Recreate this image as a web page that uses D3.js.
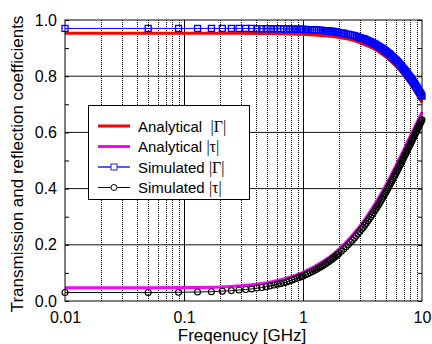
<!DOCTYPE html>
<html>
<head>
<meta charset="utf-8">
<script src="https://cdn.jsdelivr.net/npm/d3@7"></script>
<style>
html, body { margin: 0; padding: 0; background: #fff; }
svg { display: block; font-family: "Liberation Sans", Arial, sans-serif; }
</style>
</head>
<body>
<svg id="chart" width="432" height="344"></svg>
<script>
// analytical curves (GHz -> coefficient)
const anaFreq = [0.01, 0.02, 0.05, 0.1, 0.2, 0.3, 0.5, 0.7, 1, 1.5, 2, 2.5, 3, 3.5, 4, 4.5, 5, 5.5, 6, 6.5, 7, 7.5, 8, 8.5, 9, 9.5, 10]
const anaGamma = [0.953, 0.953, 0.953, 0.953, 0.953, 0.953, 0.952, 0.951, 0.949, 0.944, 0.938, 0.930, 0.920, 0.908, 0.896, 0.882, 0.868, 0.853, 0.837, 0.821, 0.805, 0.788, 0.772, 0.755, 0.739, 0.722, 0.706]
const anaTau = [0.047, 0.047, 0.047, 0.048, 0.050, 0.054, 0.065, 0.079, 0.102, 0.143, 0.184, 0.226, 0.266, 0.306, 0.344, 0.380, 0.415, 0.448, 0.480, 0.509, 0.537, 0.564, 0.588, 0.611, 0.633, 0.653, 0.672]

// simulated points
const simFreq = [
	0.01, 0.05, 0.09, 0.13, 0.17, 0.21, 0.25, 0.29, 0.33, 0.37, 0.41, 0.45, 0.49, 0.53, 0.57, 0.61, 0.65, 0.69, 0.73, 0.77, 0.81, 0.85, 0.89, 0.93, 0.97,
	1.00, 1.05, 1.10, 1.15, 1.20, 1.25, 1.30, 1.35, 1.40, 1.45, 1.50, 1.55, 1.60, 1.65, 1.70, 1.75, 1.80, 1.85, 1.90, 1.95,
	2.0, 2.1, 2.2, 2.3, 2.4, 2.5, 2.6, 2.7, 2.8, 2.9,
	3.0, 3.1, 3.2, 3.3, 3.4, 3.5, 3.6, 3.7, 3.8, 3.9,
	4.0, 4.1, 4.2, 4.3, 4.4, 4.5, 4.6, 4.7, 4.8, 4.9,
	5.0, 5.1, 5.2, 5.3, 5.4, 5.5, 5.6, 5.7, 5.8, 5.9,
	6.0, 6.1, 6.2, 6.3, 6.4, 6.5, 6.6, 6.7, 6.8, 6.9,
	7.0, 7.1, 7.2, 7.3, 7.4, 7.5, 7.6, 7.7, 7.8, 7.9,
	8.0, 8.1, 8.2, 8.3, 8.4, 8.5, 8.6, 8.7, 8.8, 8.9,
	9.0, 9.1, 9.2, 9.3, 9.4, 9.5, 9.6, 9.7, 9.8, 9.9,
	10.0
]
const simGamma = [
	0.970, 0.970, 0.970, 0.970, 0.970, 0.970, 0.970, 0.970, 0.970, 0.970, 0.969, 0.969, 0.969, 0.969, 0.969, 0.969, 0.969, 0.968, 0.968, 0.968, 0.968, 0.968, 0.967, 0.967, 0.967,
	0.967, 0.966, 0.966, 0.965, 0.965, 0.965, 0.964, 0.964, 0.963, 0.963, 0.962, 0.962, 0.961, 0.961, 0.960, 0.960, 0.959, 0.958, 0.958, 0.957,
	0.955, 0.954, 0.953, 0.950, 0.949, 0.947, 0.946, 0.944, 0.942, 0.940,
	0.937, 0.935, 0.934, 0.932, 0.929, 0.927, 0.924, 0.922, 0.920, 0.917,
	0.915, 0.913, 0.909, 0.907, 0.904, 0.902, 0.899, 0.897, 0.894, 0.891,
	0.888, 0.885, 0.882, 0.880, 0.877, 0.873, 0.870, 0.867, 0.864, 0.861,
	0.858, 0.856, 0.852, 0.849, 0.846, 0.843, 0.839, 0.836, 0.833, 0.829,
	0.826, 0.823, 0.820, 0.817, 0.814, 0.811, 0.807, 0.803, 0.800, 0.797,
	0.794, 0.791, 0.788, 0.785, 0.781, 0.777, 0.774, 0.771, 0.768, 0.765,
	0.762, 0.758, 0.755, 0.751, 0.748, 0.745, 0.742, 0.739, 0.736, 0.732,
	0.729
]
const simTau = [
	0.030, 0.030, 0.031, 0.032, 0.033, 0.035, 0.037, 0.039, 0.041, 0.043, 0.046, 0.048, 0.051, 0.054, 0.057, 0.060, 0.062, 0.065, 0.068, 0.071, 0.075, 0.078, 0.081, 0.084, 0.087,
	0.089, 0.093, 0.097, 0.101, 0.105, 0.109, 0.113, 0.117, 0.121, 0.125, 0.129, 0.133, 0.137, 0.141, 0.145, 0.149, 0.153, 0.157, 0.161, 0.165,
	0.169, 0.177, 0.185, 0.193, 0.201, 0.209, 0.216, 0.224, 0.232, 0.240,
	0.247, 0.255, 0.262, 0.270, 0.277, 0.285, 0.292, 0.299, 0.307, 0.314,
	0.321, 0.328, 0.335, 0.342, 0.349, 0.356, 0.363, 0.370, 0.377, 0.383,
	0.390, 0.396, 0.403, 0.409, 0.416, 0.422, 0.428, 0.434, 0.441, 0.447,
	0.453, 0.459, 0.464, 0.470, 0.476, 0.482, 0.487, 0.493, 0.498, 0.504,
	0.509, 0.515, 0.520, 0.525, 0.530, 0.535, 0.541, 0.546, 0.550, 0.555,
	0.560, 0.565, 0.570, 0.574, 0.579, 0.583, 0.588, 0.592, 0.597, 0.601,
	0.605, 0.610, 0.614, 0.618, 0.622, 0.626, 0.630, 0.634, 0.638, 0.642,
	0.645
]

const xTickVals = [0.01, 0.1, 1, 10]
const xTickLabels = ['0.01', '0.1', '1', '10']
const yTickVals = [0, 0.2, 0.4, 0.6, 0.8, 1.0]
const legendNames = ['Analytical  ', 'Analytical ', 'Simulated ', 'Simulated ']
const legendSymbols = ['|\u0393|', '|\u03c4|', '|\u0393|', '|\u03c4|']

const pL = 65, pR = 422, pT = 20, pB = 301

let x = d3.scaleLog().domain([0.01, 10]).range([pL, pR])
let y = d3.scaleLinear().domain([0, 1]).range([pB, pT])

let svg = d3.select('#chart')
svg.append('rect').attr('width', 432).attr('height', 344).attr('fill', '#fff')

// grid: dotted at minor log ticks, solid at decades
let isDecade = d => Math.abs(Math.log10(d) - Math.round(Math.log10(d))) < 1e-9
let grid = svg.append('g')
grid.selectAll('.vminor')
	.data(x.ticks().filter(d => !isDecade(d)))
	.enter().append('line')
	.attr('x1', d => Math.round(x(d)) + 0.5).attr('x2', d => Math.round(x(d)) + 0.5)
	.attr('y1', pT).attr('y2', pB)
	.attr('stroke', '#000').attr('stroke-width', 1).attr('stroke-dasharray', '1,1')
grid.selectAll('.vmajor')
	.data(xTickVals.slice(1, -1))
	.enter().append('line')
	.attr('x1', d => Math.round(x(d)) + 0.5).attr('x2', d => Math.round(x(d)) + 0.5)
	.attr('y1', pT).attr('y2', pB)
	.attr('stroke', '#000').attr('stroke-width', 1)
grid.selectAll('.hmajor')
	.data(yTickVals.slice(1, -1))
	.enter().append('line')
	.attr('x1', pL).attr('x2', pR)
	.attr('y1', d => y(d)).attr('y2', d => y(d))
	.attr('stroke', '#111').attr('stroke-width', 1)

// curves
let smooth = d3.line().x(d => x(d[0])).y(d => y(d[1])).curve(d3.curveMonotoneX)
let straight = d3.line().x(d => x(d[0])).y(d => y(d[1]))

svg.append('path').datum(d3.zip(anaFreq, anaGamma))
	.attr('d', smooth).attr('fill', 'none').attr('stroke', '#ff0000').attr('stroke-width', 3)
svg.append('path').datum(d3.zip(anaFreq, anaTau))
	.attr('d', smooth).attr('fill', 'none').attr('stroke', '#ff00ff').attr('stroke-width', 3)

let simG = d3.zip(simFreq, simGamma)
let simT = d3.zip(simFreq, simTau)

svg.append('path').datum(simG)
	.attr('d', straight).attr('fill', 'none').attr('stroke', '#0000ff').attr('stroke-width', 1)
svg.append('g').selectAll('rect')
	.data(simG).enter().append('rect')
	.attr('x', d => x(d[0]) - 3).attr('y', d => y(d[1]) - 3)
	.attr('width', 6).attr('height', 6)
	.attr('fill', 'none').attr('stroke', '#0000ff').attr('stroke-width', 1.3)

svg.append('path').datum(simT)
	.attr('d', straight).attr('fill', 'none').attr('stroke', '#000').attr('stroke-width', 1)
svg.append('g').selectAll('circle')
	.data(simT).enter().append('circle')
	.attr('cx', d => x(d[0])).attr('cy', d => y(d[1])).attr('r', 3)
	.attr('fill', 'none').attr('stroke', '#000').attr('stroke-width', 1.1)

// frame
svg.append('rect')
	.attr('x', pL).attr('y', pT).attr('width', pR - pL).attr('height', pB - pT)
	.attr('fill', 'none').attr('stroke', '#000').attr('stroke-width', 1)

// inner ticks on left and right
svg.append('g').attr('transform', `translate(${pL},0)`)
	.call(d3.axisRight(y).ticks(10).tickSize(4).tickFormat(''))
	.call(g => g.select('.domain').remove())
svg.append('g').attr('transform', `translate(${pR},0)`)
	.call(d3.axisLeft(y).ticks(10).tickSize(4).tickFormat(''))
	.call(g => g.select('.domain').remove())

// labels
svg.append('g').attr('transform', `translate(${pL},0)`)
	.call(d3.axisLeft(y).tickValues(yTickVals).tickFormat(d3.format('.1f')).tickSize(0).tickPadding(8))
	.call(g => g.select('.domain').remove())
	.selectAll('text').attr('font-size', 16).attr('font-family', '"Liberation Sans", Arial, sans-serif').attr('fill', '#000')

svg.append('g').attr('transform', `translate(0,${pB})`)
	.call(d3.axisBottom(x).tickValues(xTickVals).tickFormat((d, i) => xTickLabels[i]).tickSize(0).tickPadding(11))
	.call(g => g.select('.domain').remove())
	.selectAll('text').attr('font-size', 16).attr('font-family', '"Liberation Sans", Arial, sans-serif').attr('fill', '#000')

svg.append('text')
	.attr('x', 242).attr('y', 341)
	.attr('text-anchor', 'middle').attr('font-size', 17)
	.text('Freqenucy [GHz]')

svg.append('text')
	.attr('transform', 'translate(23,164) rotate(-90)')
	.attr('text-anchor', 'middle').attr('font-size', 17)
	.text('Transmission and reflection coefficients')

// legend
let legend = svg.append('g').attr('id', 'legend')
legend.append('rect')
	.attr('x', 88.5).attr('y', 105.5).attr('width', 161).attr('height', 94)
	.attr('fill', '#fff').attr('stroke', '#000').attr('stroke-width', 1)

let legendStyle = [
	{ color: '#ff0000', width: 3, mark: null },
	{ color: '#ff00ff', width: 3, mark: null },
	{ color: '#2020ff', width: 1.5, mark: 'square' },
	{ color: '#000', width: 1, mark: 'circle' }
]
let rowY = i => 126 + i * 20.5

legendStyle.forEach((s, i) => {
	let yy = rowY(i)
	legend.append('line')
		.attr('x1', 98).attr('x2', 130).attr('y1', yy).attr('y2', yy)
		.attr('stroke', s.color).attr('stroke-width', s.width)
	if (s.mark === 'square') {
		legend.append('rect').attr('x', 111).attr('y', yy - 3).attr('width', 6).attr('height', 6)
			.attr('fill', '#fff').attr('stroke', s.color)
	} else if (s.mark === 'circle') {
		legend.append('circle').attr('cx', 114).attr('cy', yy).attr('r', 3)
			.attr('fill', '#fff').attr('stroke', s.color)
	}
	let t = legend.append('text')
		.attr('x', 138).attr('y', yy + 5.5)
		.attr('font-size', 15)
		.attr('xml:space', 'preserve')
	t.append('tspan').text(legendNames[i])
	t.append('tspan').attr('font-family', '"Liberation Serif", "Times New Roman", serif').attr('font-size', 16).text(legendSymbols[i])
})
</script>
</body>
</html>
